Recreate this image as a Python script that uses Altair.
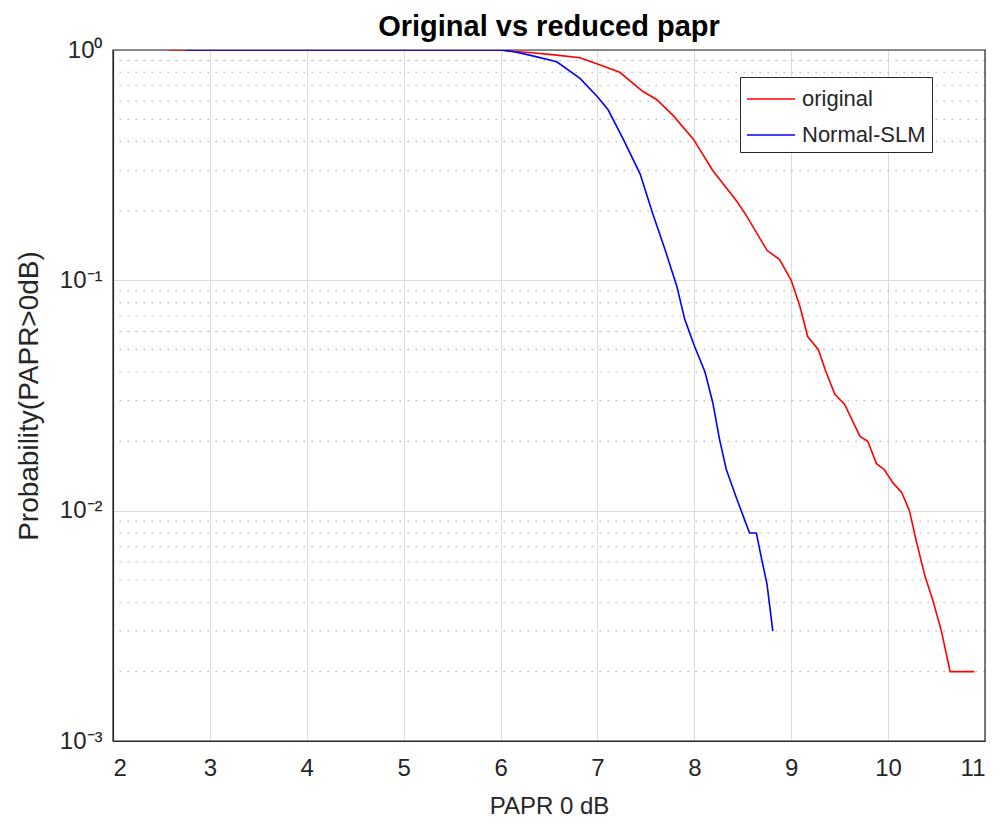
import altair as alt
import pandas as pd

# ---- data ----
orig_x = [2.58, 6.0, 6.15, 6.3, 6.58, 6.82, 7.0, 7.23, 7.47, 7.61, 7.78, 7.99, 8.19, 8.44, 8.54,
          8.75, 8.88, 9.0, 9.09, 9.17, 9.28, 9.35, 9.45, 9.55, 9.71, 9.79, 9.88, 9.96, 10.05,
          10.14, 10.22, 10.29, 10.38, 10.46, 10.55, 10.64, 10.89]
orig_y = [1.0, 1.0, 0.985, 0.975, 0.95, 0.925, 0.87, 0.80, 0.66, 0.61, 0.52, 0.41, 0.30, 0.22, 0.19,
          0.135, 0.123, 0.10, 0.077, 0.057, 0.050, 0.041, 0.032, 0.029, 0.021, 0.020, 0.016, 0.0151, 0.0132,
          0.012, 0.0100, 0.0074, 0.0052, 0.0041, 0.0030, 0.0020, 0.0020]

slm_x = [2.75, 6.0, 6.15, 6.30, 6.58, 6.82, 7.0, 7.11, 7.27, 7.44, 7.57, 7.70, 7.82, 7.90, 8.0,
         8.11, 8.19, 8.26, 8.33, 8.43, 8.52, 8.57, 8.64, 8.69, 8.75, 8.81]
slm_y = [1.0, 1.0, 0.98, 0.95, 0.889, 0.753, 0.627, 0.55, 0.407, 0.29, 0.195, 0.135, 0.094, 0.068, 0.052,
         0.040, 0.0295, 0.0204, 0.0151, 0.0115, 0.0091, 0.0080, 0.0080, 0.0063, 0.0048, 0.0030]

series_names = ["original", "Normal-SLM"]
series_colors = ["#ff0000", "#0000ff"]

x_ticks = [2, 3, 4, 5, 6, 7, 8, 9, 10, 11]
y_major = [1, 0.1, 0.01, 0.001]
y_minor = [m * d for d in [0.001, 0.01, 0.1] for m in range(2, 10)]

df = pd.concat([
    pd.DataFrame({"x": orig_x, "y": orig_y, "series": "original", "order": range(len(orig_x))}),
    pd.DataFrame({"x": slm_x, "y": slm_y, "series": "Normal-SLM", "order": range(len(slm_x))}),
])
minor_df = pd.DataFrame({"y": y_minor})
frame_df = pd.DataFrame({"k": [0]})

FONT = "Liberation Sans"
INK = "#262626"

xscale = alt.Scale(domain=[2, 11], nice=False, zero=False)
yscale = alt.Scale(type="log", domain=[0.001, 1], nice=False)

x_axis = alt.Axis(values=x_ticks, title="PAPR 0 dB", grid=True, gridColor="#dcdcdc",
                  ticks=False, domainColor=INK, domainWidth=1.2,
                  labelFontSize=24, labelPadding=15, titleFontSize=24,
                  titleFontWeight="normal", titlePadding=14, labelColor=INK,
                  titleColor=INK, format="d", labelFont=FONT, titleFont=FONT)
y_axis = alt.Axis(values=y_major, title="Probability(PAPR>0dB)", grid=True,
                  gridColor="#dcdcdc", ticks=False, domainColor=INK, domainWidth=1.2,
                  labelFontSize=24, labelPadding=11, titleFontSize=28,
                  titleFontWeight="normal", titlePadding=16, labelColor=INK,
                  titleColor=INK, labelFont=FONT, titleFont=FONT,
                  labelExpr="datum.value > 0.5 ? '10⁰' : datum.value > 0.05 ? '10⁻¹' : datum.value > 0.005 ? '10⁻²' : '10⁻³'")

minor = alt.Chart(minor_df).mark_rule(
    color="#a8a8a8", strokeDash=[1.5, 6.5], strokeWidth=1
).encode(y=alt.Y("y:Q", scale=yscale, axis=y_axis))

frame = alt.Chart(frame_df).mark_rect(filled=False, stroke=INK, strokeWidth=1.2).encode(
    x=alt.value(0), x2=alt.value("width"), y=alt.value(0), y2=alt.value("height")
)

lines = alt.Chart(df).mark_line(strokeWidth=1.6, clip=True).encode(
    x=alt.X("x:Q", scale=xscale, axis=x_axis),
    y=alt.Y("y:Q", scale=yscale, axis=y_axis),
    color=alt.Color("series:N",
                    scale=alt.Scale(domain=series_names, range=series_colors),
                    legend=alt.Legend(title=None, orient="none", legendX=627, legendY=27,
                                      fillColor="white", strokeColor=INK,
                                      padding=6, symbolType="M-1,0H2.2", symbolSize=900,
                                      symbolStrokeWidth=1.6, labelFontSize=22, labelColor=INK,
                                      rowPadding=9, labelOffset=24, labelFont=FONT)),
    order="order:Q",
)

chart = alt.layer(minor, frame, lines).properties(
    width=872, height=691,
    title=alt.TitleParams("Original vs reduced papr", fontSize=29, fontWeight="bold",
                          font=FONT, color="#000000", offset=4, dy=8),
    autosize=alt.AutoSizeParams(type="none"),
    padding={"left": 105, "top": 42, "right": 10, "bottom": 78},
).configure(font=FONT).configure_view(stroke=INK, strokeWidth=1)

chart.save("out.html", embed_options={"renderer": "svg", "actions": False})
